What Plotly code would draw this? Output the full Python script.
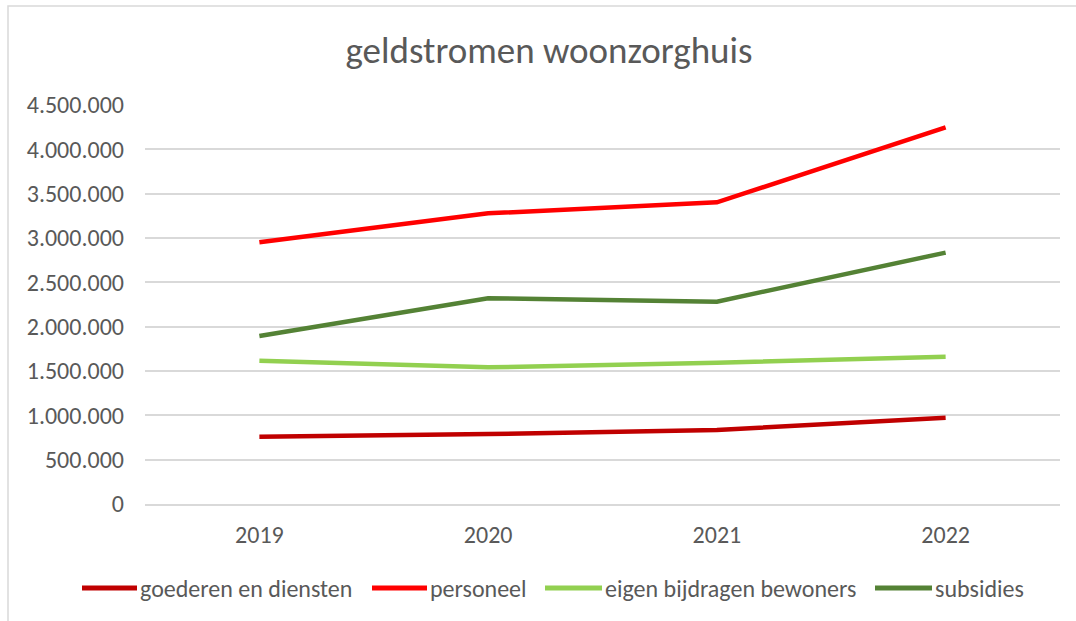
import plotly.graph_objects as go

years = ["2019", "2020", "2021", "2022"]
goederen_en_diensten = [759000, 789000, 835000, 974000]
personeel = [2951000, 3278000, 3402000, 4248000]
eigen_bijdragen_bewoners = [1617000, 1541000, 1594000, 1662000]
subsidies = [1895000, 2320000, 2282000, 2835000]

series_names = ["goederen en diensten", "personeel", "eigen bijdragen bewoners", "subsidies"]
series_values = [goederen_en_diensten, personeel, eigen_bijdragen_bewoners, subsidies]
series_colors = ["#C00000", "#FF0000", "#92D050", "#548235"]

y_tickvals = [0, 500000, 1000000, 1500000, 2000000, 2500000, 3000000, 3500000, 4000000, 4500000]
y_ticktext = ["0", "500.000", "1.000.000", "1.500.000", "2.000.000", "2.500.000",
              "3.000.000", "3.500.000", "4.000.000", "4.500.000"]

FONT = "Carlito, Calibri, Lato, 'Open Sans', sans-serif"
GREY = "#595959"

W, H = 1076, 621
L, R, T, B = 145, 16, 105, 117
pw, ph = W - L - R, H - T - B

def px_x(x):
    return (x - L) / pw

def px_y(y):
    return (H - B - y) / ph

fig = go.Figure()
for name, vals, col in zip(series_names, series_values, series_colors):
    fig.add_trace(go.Scatter(
        x=years, y=vals, name=name, mode="lines",
        line=dict(color=col, width=4.5), showlegend=False,
    ))

# legend drawn as shapes + annotations (pixel layout of the reference)
legend_sym = [(82, 137), (372, 427), (545, 602), (875, 932)]
legend_y = 588
shapes = [dict(type="rect", xref="paper", yref="paper",
               x0=px_x(8), x1=px_x(W + 10), y0=px_y(H + 10), y1=px_y(6),
               line=dict(color="#D9D9D9", width=1.5), fillcolor="rgba(0,0,0,0)", layer="below")]
annotations = []
for (sx0, sx1), name, col in zip(legend_sym, series_names, series_colors):
    shapes.append(dict(type="line", xref="paper", yref="paper",
                       x0=px_x(sx0), x1=px_x(sx1), y0=px_y(legend_y), y1=px_y(legend_y),
                       line=dict(color=col, width=5)))
    annotations.append(dict(text=name, xref="paper", yref="paper", x=px_x(sx1 + 1), y=px_y(legend_y),
                            xanchor="left", yanchor="middle", showarrow=False,
                            font=dict(family=FONT, size=24, color=GREY)))

fig.update_layout(
    width=W, height=H,
    margin=dict(l=L, r=R, t=T, b=B),
    paper_bgcolor="white", plot_bgcolor="white",
    font=dict(family=FONT, color=GREY, size=24),
    title=dict(text="geldstromen woonzorghuis", x=549 / W, xref="container",
               xanchor="center", y=1 - 50 / H, yref="container", yanchor="middle",
               font=dict(family=FONT, size=37, color=GREY, weight=300)),
    showlegend=False,
    xaxis=dict(type="category", showgrid=False, showline=True, linecolor="#D9D9D9", linewidth=1.5,
               ticks="", tickfont=dict(family=FONT, size=24, color=GREY), ticklabelstandoff=8,
               range=[-0.5, 3.5], fixedrange=True),
    yaxis=dict(range=[0, 4500000], tickvals=y_tickvals, ticktext=y_ticktext,
               showgrid=True, gridcolor="#D9D9D9", gridwidth=1.5, zeroline=False,
               showline=False, ticks="", ticklabelstandoff=20,
               tickfont=dict(family=FONT, size=24, color=GREY)),
    shapes=shapes,
    annotations=annotations,
)

fig.write_html("out.html", config={"displayModeBar": False},
               post_script="document.body.style.margin='0px';")
